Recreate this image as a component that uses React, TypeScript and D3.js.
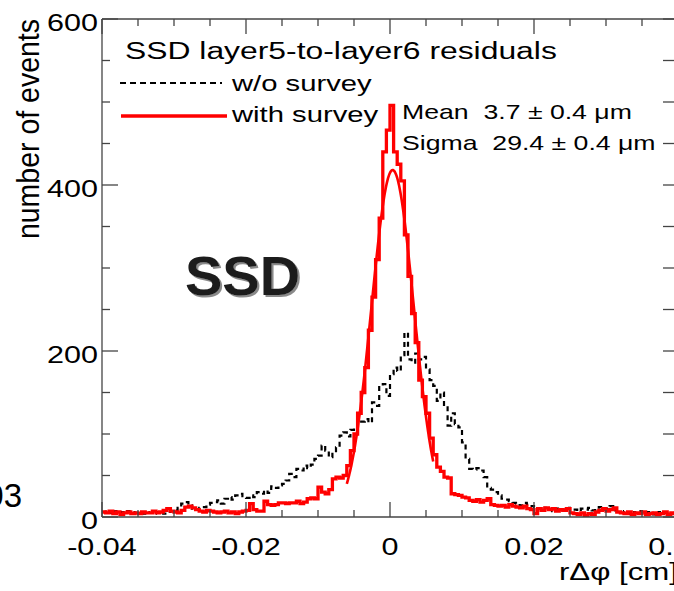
import React from 'react';
import * as d3 from 'd3';

// histogram binning (cm)
const BIN_LO = -0.04;
const BIN_W = 0.0005;

// w/o survey (black dashed)
const noSurvey = [
  6, 8, 5, 7, 4, 6, 5, 7, 6, 5,
  5, 4, 6, 5, 4, 6, 5, 4, 6, 7,
  8, 11, 16, 18, 14, 10, 9, 11, 12, 15,
  17, 18, 20, 16, 22, 24, 21, 26, 28, 25,
  23, 26, 24, 30, 28, 32, 29, 37, 35, 38,
  40, 44, 52, 48, 58, 56, 62, 59, 63, 70,
  74, 86, 80, 72, 78, 84, 98, 102, 97, 105,
  108, 112, 115, 118, 114, 138, 134, 158, 160, 146,
  172, 180, 176, 195, 222, 190, 186, 197, 190, 193,
  178, 165, 158, 140, 150, 132, 110, 125, 112, 108,
  90, 70, 58, 57, 59, 56, 48, 35, 33, 30,
  26, 22, 21, 19, 17, 16, 14, 17, 15, 13,
  12, 10, 8, 11, 9, 7, 10, 8, 9, 11,
  8, 9, 7, 10, 9, 11, 8, 10, 12, 9,
  10, 13, 8, 6, 5, 7, 4, 6, 5, 7,
  4, 6, 5, 3, 6, 4, 5, 6, 4, 5,
];

// with survey (red)
const withSurvey = [
  6, 5, 7, 4, 6, 3, 5, 6, 4, 5,
  4, 6, 5, 5, 7, 5, 6, 8, 10, 7,
  6, 5, 8, 12, 13, 11, 9, 7, 6, 8,
  7, 6, 5, 6, 7, 5, 6, 4, 6, 7,
  8, 16, 9, 7, 7, 19, 15, 14, 15, 17,
  17, 16, 17, 17, 19, 16, 18, 22, 23, 22,
  36, 30, 28, 33, 46, 48, 47, 50, 62, 80,
  100, 125, 150, 180, 225, 265, 310, 360, 440, 466,
  496, 440, 425, 405, 340, 290, 245, 210, 165, 145,
  125, 95, 75, 60, 55, 48, 47, 28, 27, 26,
  24, 23, 20, 19, 21, 18, 20, 22, 15, 14,
  13, 14, 12, 15, 13, 12, 11, 13, 10, 9,
  4, 10, 8, 11, 9, 10, 7, 9, 8, 10,
  5, 4, 3, 5, 2, 4, 3, 6, 8, 10,
  7, 9, 11, 6, 5, 4, 6, 3, 5, 4,
  6, 3, 4, 5, 3, 4, 6, 3, 5, 4,
];

// gaussian fit of the "with survey" peak
const FIT_AMP = 418;
const FIT_MEAN = 0.00037;
const FIT_SIGMA = 0.00294;
const FIT_RANGE = [-0.006, 0.006];

const xTicks = [-0.04, -0.02, 0, 0.02, 0.04];
const xTickLabels = ['-0.04', '-0.02', '0', '0.02', '0.04'];
const yTicks = [0, 200, 400, 600];

const W = 674;
const H = 591;
const L = 102, R = 678, T = 19, B = 517;
const FONT = '"Liberation Sans", Arial, Helvetica, sans-serif';
const SX = 1.3; // picture is stretched horizontally

const x = d3.scaleLinear().domain([-0.04, 0.04]).range([L, R]);
const y = d3.scaleLinear().domain([0, 600]).range([B, T]);

function histPath(vals: number[]) {
  const pts: [number, number][] = [];
  vals.forEach((v, i) => {
    const lo = BIN_LO + i * BIN_W;
    pts.push([x(lo), y(v)]);
    pts.push([x(lo + BIN_W), y(v)]);
  });
  return d3.line()(pts) || '';
}

const fitPts: [number, number][] = d3.range(0, 201).map(i => {
  const v = FIT_RANGE[0] + (i / 200) * (FIT_RANGE[1] - FIT_RANGE[0]);
  const z = (v - FIT_MEAN) / FIT_SIGMA;
  return [x(v), y(FIT_AMP * Math.exp(-0.5 * z * z))];
});

const T_ = ({ x0, y0, size, anchor = 'start', children, sx = SX, weight = 'normal', fill = '#000', filter }: any) => (
  <text
    transform={`translate(${x0},${y0}) scale(${sx},1)`}
    fontSize={size}
    textAnchor={anchor}
    fontFamily={FONT}
    fontWeight={weight}
    fill={fill}
    filter={filter}
    style={{ whiteSpace: 'pre' }}
  >
    {children}
  </text>
);

export default function App() {
  const xMinor = d3.range(-0.04, 0.04001, 0.005);
  const yMinor = d3.range(0, 601, 50);
  const axisColor = '#444';

  return (
    <svg width={W} height={H} style={{ position: 'absolute', left: 0, top: 0, background: '#fff' }}>
      <defs>
        <clipPath id="plot">
          <rect x={L} y={T - 2} width={R - L} height={B - T + 2} />
        </clipPath>
        <filter id="shadow" x="-10%" y="-10%" width="130%" height="130%">
          <feDropShadow dx="2" dy="2" stdDeviation="0.6" floodColor="#8a8a8a" floodOpacity="1" />
        </filter>
      </defs>

      {/* histograms */}
      <g clipPath="url(#plot)">
        <path d={histPath(noSurvey)} fill="none" stroke="#000" strokeWidth={2.2} strokeDasharray="5,4" />
        <path d={histPath(withSurvey)} fill="none" stroke="#ff0000" strokeWidth={3.3} />
        <path d={d3.line()(fitPts) || ''} fill="none" stroke="#ff0000" strokeWidth={2.6} />
      </g>

      {/* frame */}
      <g stroke={axisColor} strokeWidth={1.3} fill="none">
        <line x1={L} y1={B} x2={R} y2={B} />
        <line x1={L} y1={T} x2={R} y2={T} />
        <line x1={L} y1={T} x2={L} y2={B} />
        <line x1={R} y1={T} x2={R} y2={B} />
        {xMinor.map((v, i) => {
          const major = xTicks.some(t => Math.abs(t - v) < 1e-9);
          const len = major ? 15 : 7;
          return (
            <g key={'xt' + i}>
              <line x1={x(v)} x2={x(v)} y1={B} y2={B - len} />
              <line x1={x(v)} x2={x(v)} y1={T} y2={T + len} />
            </g>
          );
        })}
        {yMinor.map((v, i) => {
          const major = yTicks.includes(v);
          return (
            <g key={'yt' + i}>
              <line x1={L} x2={L + (major ? 16 : 8)} y1={y(v)} y2={y(v)} />
              <line x1={W} x2={W - 11} y1={y(v)} y2={y(v)} />
            </g>
          );
        })}
      </g>

      {/* tick labels */}
      {yTicks.map(v => (
        <T_ key={'yl' + v} x0={98} y0={y(v) + 12} size={23.5} anchor="end">{String(v)}</T_>
      ))}
      {xTicks.map((v, i) => (
        <T_ key={'xl' + v} x0={x(v)} y0={555} size={23.5} anchor="middle">{xTickLabels[i]}</T_>
      ))}

      {/* axis titles */}
      <text
        transform={`translate(39,19) scale(1.1,1) rotate(-90)`}
        fontSize={28.5}
        textAnchor="end"
        fontFamily={FONT}
      >
        number of events
      </text>
      <T_ x0={678} y0={580} size={24} anchor="end">rΔφ [cm]</T_>

      {/* legend */}
      <T_ x0={125} y0={59} size={24.5}>SSD layer5-to-layer6 residuals</T_>
      <line x1={120} x2={222} y1={83} y2={83} stroke="#000" strokeWidth={2.2} strokeDasharray="6,4" />
      <T_ x0={232} y0={91} size={22.5}>w/o survey</T_>
      <line x1={121} x2={227} y1={116} y2={116} stroke="#ff0000" strokeWidth={3.5} />
      <T_ x0={232} y0={122} size={22.5}>with survey</T_>

      {/* fit stats */}
      <T_ x0={402} y0={119} size={20.5}>{'Mean  3.7 ± 0.4 μm'}</T_>
      <T_ x0={402} y0={150} size={20.5}>{'Sigma  29.4 ± 0.4 μm'}</T_>

      {/* detector label */}
      <T_ x0={185} y0={295} size={56} sx={1} weight="bold" fill="#1a1a1a" filter="url(#shadow)">SSD</T_>

      {/* clipped fragment at left edge */}
      <T_ x0={22} y0={507} size={33} sx={1} anchor="end">03</T_>
    </svg>
  );
}
